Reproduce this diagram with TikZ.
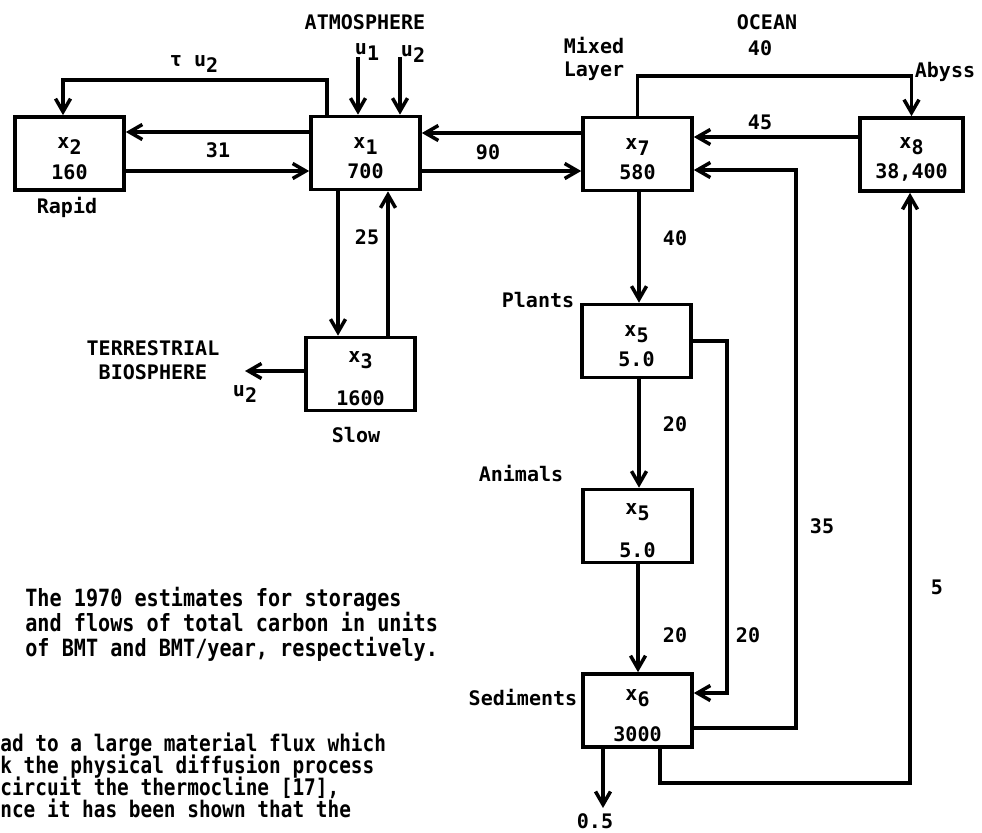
\documentclass[tikz,border=0pt]{standalone}
\usepackage{fontspec}
\setmainfont{DejaVu Sans Mono}
\newfontfamily\notefont{DejaVu Sans Mono}[FakeStretch=0.85]
\usepackage{tikz}
\usetikzlibrary{arrows.meta}

\newcommand{\dn}[1]{\raisebox{-0.3em}{#1}}
\newcommand{\xs}[1]{\rule{0pt}{1.05em}x\dn{#1}}
\newcommand{\tightlines}{\lineskiplimit=-20pt\relax}

\begin{document}
\begin{tikzpicture}[
		x=0.02cm,y=-0.02cm,
		>={Straight Barb[length=2.6mm,width=3mm]},
		every node/.style={font=\bfseries\fontsize{11.4}{13.5}\selectfont, inner sep=1pt},
		pool/.style={draw, line width=2.1pt, minimum width=2.18cm, minimum height=1.46cm, align=center, inner sep=0pt},
		flow/.style={->, line width=2pt}
		]
		\useasboundingbox (0,0) rectangle (982,832);
		
		% =========================
		% Storages
		% =========================
		\node[pool] (x2) at (69.5,153.5) {\xs{2}\\[4pt]160};
		\node[pool] (x1) at (365.5,153) {\xs{1}\\[4pt]700};
		\node[pool] (x7) at (637.5,154) {\xs{7}\\[4pt]580};
		\node[pool, minimum width=2.06cm] (x8) at (911.5,154.5) {\xs{8}\\[4pt]38,400};
		\node[pool] (x3) at (360.5,374) {\xs{3}\\[11pt]1600};
		\node[pool] (x5p) at (636.5,341) {\xs{5}\\[4pt]5.0};
		\node[pool] (x5a) at (637.5,526) {\xs{5}\\[11pt]5.0};
		\node[pool] (x6) at (637.5,710.5) {\xs{6}\\[10pt]3000};
		
		% =========================
		% Atmosphere and rapid pool
		% =========================
		\node (atm) at (365,22) {ATMOSPHERE};
		\coordinate (in1) at (358,57);
		\coordinate (in2) at (400,57);
		\draw[flow] (in1) -- (x1.north -| in1);
		\draw[flow] (in2) -- (x1.north -| in2);
		\node (u1) at (367,52) {u\dn{1}};
		\node (u2) at (413,54) {u\dn{2}};
		
		\draw[flow] (x1.west |- 0,132) -- (x2.east |- 0,132);
		\draw[flow] (x2.east |- 0,171) -- (x1.west |- 0,171);
		\node (f31) at (218,150) {31};
		
		\draw[flow] (x1.north -| 327,0) |- (63,80) -- (x2.north -| 63,0);
		\node (ftau) at (194,64) {τ u\dn{2}};
		\node (rapid) at (67,207) {Rapid};
		
		% =========================
		% Terrestrial biosphere
		% =========================
		\draw[flow] (x1.south -| 338,0) -- (x3.north -| 338,0);
		\draw[flow] (x3.north -| 388,0) -- (x1.south -| 388,0);
		\node (f25) at (367,237) {25};
		
		\coordinate (out2) at (245,371);
		\draw[flow] (x3.west |- out2) -- (out2);
		\node (u2b) at (245,394) {u\dn{2}};
		\node[align=center] (terr) at (153,360) {TERRESTRIAL\\BIOSPHERE};
		\node (slow) at (356,435) {Slow};
		
		% =========================
		% Ocean: mixed layer and abyss
		% =========================
		\draw[flow] (x7.west |- 0,133) -- (x1.east |- 0,133);
		\draw[flow] (x1.east |- 0,171) -- (x7.west |- 0,171);
		\node (f90) at (488,152) {90};
		
		\draw[flow] (x8.west |- 0,137) -- (x7.east |- 0,137);
		\node (f45) at (760,122) {45};
		\draw[flow] (x7.north) |- (x8.north |- 0,76) -- (x8.north);
		\node (f40a) at (760,48) {40};
		\node (ocean) at (767,22) {OCEAN};
		\node[align=left] (mixed) at (594,59) {Mixed\\Layer};
		\node (abyss) at (945,72) {Abyss};
		
		% =========================
		% Ocean biota and sediments
		% =========================
		\draw[flow] (x7.south -| 639,0) -- (x5p.north -| 639,0);
		\node (f40b) at (675,238) {40};
		\draw[flow] (x5p.south -| 639,0) -- (x5a.north -| 639,0);
		\node (f20a) at (675,424) {20};
		\draw[flow] (x5a.south -| 638,0) -- (x6.north -| 638,0);
		\node (f20b) at (675,635) {20};
		
		\draw[flow] (x5p.east |- 0,341) -| (727,693) -- (x6.east |- 0,693);
		\node (f20c) at (748,635) {20};
		\draw[flow] (x6.east |- 0,728) -| (796,170) -- (x7.east |- 0,170);
		\node (f35) at (822,526) {35};
		\draw[flow] (x6.south -| 660,0) |- (910,783) -- (x8.south -| 910,0);
		\node (f5) at (937,587) {5};
		
		\coordinate (burial) at (603,808);
		\draw[flow] (x6.south -| burial) -- (burial);
		\node (f05) at (595,821) {0.5};
		
		\node (plants) at (538,300) {Plants};
		\node (animals) at (521,473) {Animals};
		\node (sed) at (523,697) {Sediments};
		
		% =========================
		% Caption and running text
		% =========================
		\node[anchor=north west, align=left, inner sep=0pt,
		font=\bfseries\notefont\fontsize{13.5}{14.2}\selectfont\tightlines] (note) at (25,587)
		{The 1970 estimates for storages\\
			and flows of total carbon in units\\
			of BMT and BMT/year, respectively.};
		\node[anchor=north west, align=left, inner sep=0pt,
		font=\bfseries\notefont\fontsize{13}{12.5}\selectfont\tightlines] (body) at (0,733)
		{ad to a large material flux which\\
			k the physical diffusion process\\
			circuit the thermocline [17],\\
			nce it has been shown that the};
		
\end{tikzpicture}
\end{document}
